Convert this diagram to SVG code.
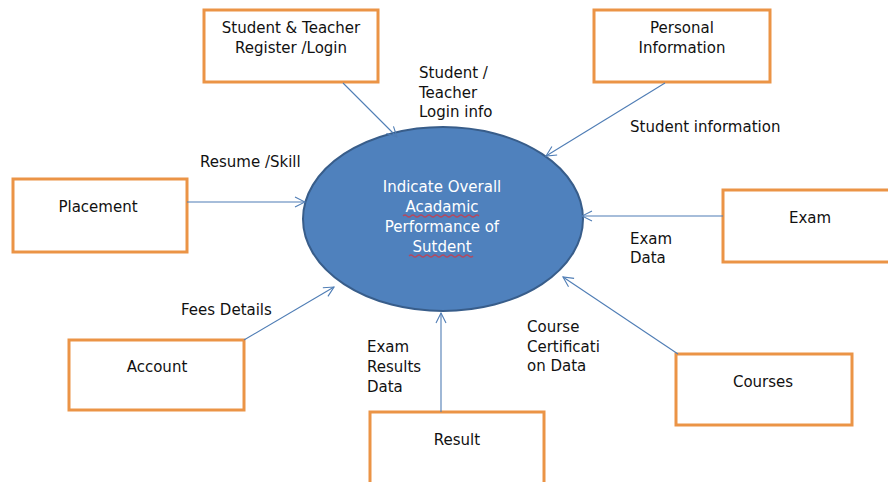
<svg xmlns="http://www.w3.org/2000/svg" width="888" height="482" viewBox="0 0 888 482">
<style>
.box{fill:#fff;stroke:#EB9446;stroke-width:3}
.t{font-family:"DejaVu Sans","Liberation Sans",sans-serif;font-size:15px;fill:#111}
.c{text-anchor:middle}
.w{fill:#fff}
.con{stroke:#4F7DB5;stroke-width:1.1;fill:none;marker-end:url(#arr)}
.sq{stroke:#B5485F;stroke-width:1.2;fill:none}
</style>
<defs>
<marker id="arr" markerWidth="12" markerHeight="12" refX="11" refY="6" orient="auto" markerUnits="userSpaceOnUse">
<path d="M1,1 L11,6 L1,11" fill="none" stroke="#4F7DB5" stroke-width="1.1"/>
</marker>
</defs>
<rect width="888" height="482" fill="#fff"/>
<g id="center">
<ellipse cx="443" cy="219" rx="140" ry="92" fill="#4F81BD" stroke="#385D8A" stroke-width="2"/>
<text class="t c w" x="442" y="192">Indicate Overall</text>
<text class="t c w" x="442" y="212">Acadamic</text>
<text class="t c w" x="442" y="232">Performance of</text>
<text class="t c w" x="442" y="252">Sutdent</text>
<path class="sq" d="M403,216 q2,-2 4,0 t4,0 t4,0 t4,0 t4,0 t4,0 t4,0 t4,0 t4,0 t4,0 t4,0 t4,0 t4,0 t4,0 t4,0 t4,0 t4,0 t4,0 t4,0"/>
<path class="sq" d="M409,256 q2,-2 4,0 t4,0 t4,0 t4,0 t4,0 t4,0 t4,0 t4,0 t4,0 t4,0 t4,0 t4,0 t4,0 t4,0 t4,0 t4,0"/>
</g>
<g id="register">
<rect class="box" x="204" y="10" width="174" height="72"/>
<text class="t c" x="291" y="33">Student &amp; Teacher</text>
<text class="t c" x="291" y="53">Register /Login</text>
</g>
<g id="personal">
<rect class="box" x="594" y="10" width="176" height="72"/>
<text class="t c" x="682" y="33">Personal</text>
<text class="t c" x="682" y="53">Information</text>
</g>
<g id="placement">
<rect class="box" x="13" y="179" width="174" height="73"/>
<text class="t c" x="98" y="212">Placement</text>
</g>
<g id="exam">
<rect class="box" x="723" y="190" width="175" height="72"/>
<text class="t c" x="810" y="223">Exam</text>
</g>
<g id="account">
<rect class="box" x="69" y="340" width="175" height="70"/>
<text class="t c" x="157" y="372">Account</text>
</g>
<g id="courses">
<rect class="box" x="676" y="354" width="176" height="71"/>
<text class="t c" x="763" y="387">Courses</text>
</g>
<g id="result">
<rect class="box" x="370" y="412" width="174" height="80"/>
<text class="t c" x="457" y="445">Result</text>
</g>
<g id="connectors">
<line class="con" x1="343" y1="83" x2="397" y2="137"/>
<line class="con" x1="665" y1="83" x2="546" y2="156"/>
<line class="con" x1="187" y1="202" x2="305" y2="202"/>
<line class="con" x1="723" y1="216" x2="582" y2="216"/>
<line class="con" x1="244" y1="340" x2="334" y2="287"/>
<line class="con" x1="441" y1="412" x2="441" y2="313"/>
<line class="con" x1="678" y1="354" x2="563" y2="277"/>
</g>
<g id="labels">
<text class="t" x="419" y="78">Student /</text>
<text class="t" x="419" y="98">Teacher</text>
<text class="t" x="419" y="117">Login info</text>
<text class="t" x="630" y="132">Student information</text>
<text class="t" x="200" y="167">Resume /Skill</text>
<text class="t" x="630" y="244">Exam</text>
<text class="t" x="630" y="263">Data</text>
<text class="t" x="181" y="315">Fees Details</text>
<text class="t" x="367" y="352">Exam</text>
<text class="t" x="367" y="372">Results</text>
<text class="t" x="367" y="392">Data</text>
<text class="t" x="527" y="332">Course</text>
<text class="t" x="527" y="352">Certificati</text>
<text class="t" x="527" y="371">on Data</text>
</g>
</svg>
